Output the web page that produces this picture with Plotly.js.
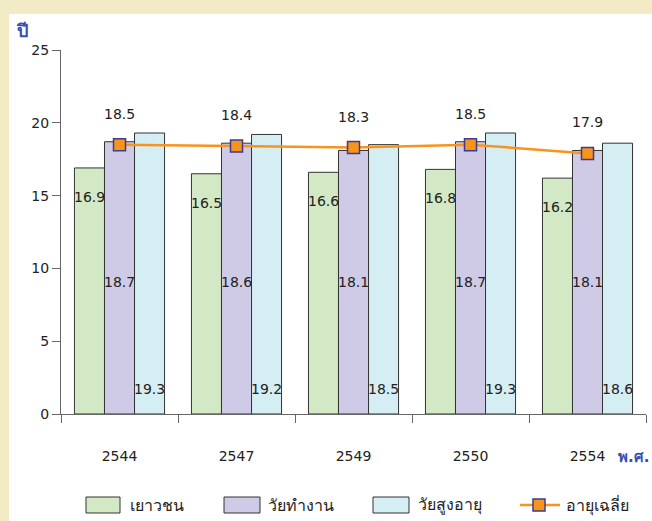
<!DOCTYPE html>
<html>
<head>
<meta charset="utf-8">
<script src="https://cdn.plot.ly/plotly-3.0.1.min.js"></script>
<style>
  html, body { margin: 0; padding: 0; background: #f3ebc6; width: 652px; height: 521px; overflow: hidden; }
  #chart { position: absolute; left: 9px; top: 14px; width: 643px; height: 507px; background: #ffffff; }
</style>
</head>
<body>
<div id="chart"></div>
<script>
// ---- data ----
const years = ["2544", "2547", "2549", "2550", "2554"];
const youth = [16.9, 16.5, 16.6, 16.8, 16.2];
const working = [18.7, 18.6, 18.1, 18.7, 18.1];
const elderly = [19.3, 19.2, 18.5, 19.3, 18.6];
const average = [18.5, 18.4, 18.3, 18.5, 17.9];
const seriesNames = ["เยาวชน", "วัยทำงาน", "วัยสูงอายุ", "อายุเฉลี่ย"];
const yTicks = [0, 5, 10, 15, 20, 25];
const yUnit = "ปี";
const xUnit = "พ.ศ.";

// ---- style ----
const colors = ["#d3e9c6", "#cfcae6", "#d5eef4"];
const lineColor = "#f7941d";
const markerEdge = "#3c3c8c";
const font = "DejaVu Sans, Tahoma, Verdana, sans-serif";
const txt = "#222222";

// page pixel -> paper coords (plot area: x 61..646, y 50..414 in page)
const PX0 = 61, PX1 = 646, PY0 = 50, PY1 = 414;
const px = x => (x - PX0) / (PX1 - PX0);
const py = y => (PY1 - y) / (PY1 - PY0);

const barLine = { color: "#333333", width: 1 };
const traces = [
  { type: "bar", x: years, y: youth, name: seriesNames[0], marker: { color: colors[0], line: barLine } },
  { type: "bar", x: years, y: working, name: seriesNames[1], marker: { color: colors[1], line: barLine } },
  { type: "bar", x: years, y: elderly, name: seriesNames[2], marker: { color: colors[2], line: barLine } },
  { type: "scatter", mode: "lines+markers", x: years, y: average, name: seriesNames[3],
    line: { color: lineColor, width: 2.5 },
    marker: { symbol: "square", size: 12, color: lineColor, line: { color: markerEdge, width: 1.5 } } }
];

const annotations = [];
const lblFont = { family: font, size: 14, color: txt };
years.forEach((yr, i) => {
  // category index i on the category axis
  annotations.push({ x: i, y: youth[i], xref: "x", yref: "y", text: youth[i].toFixed(1), showarrow: false, xshift: -30, yshift: -29, font: lblFont });
  annotations.push({ x: i, y: 9.1, xref: "x", yref: "y", text: working[i].toFixed(1), showarrow: false, xshift: 0, font: lblFont });
  annotations.push({ x: i, y: 1.72, xref: "x", yref: "y", text: elderly[i].toFixed(1), showarrow: false, xshift: 30, font: lblFont });
  annotations.push({ x: i, y: average[i], xref: "x", yref: "y", text: average[i].toFixed(1), showarrow: false, yshift: 31, font: lblFont });
});
// unit labels
annotations.push({ xref: "paper", yref: "paper", x: px(14), y: py(31), xanchor: "left", yanchor: "middle", text: "<b>" + yUnit + "</b>", showarrow: false, font: { family: font, size: 18, color: "#3a4fb0" } });
annotations.push({ xref: "paper", yref: "paper", x: px(651), y: py(457), xanchor: "right", yanchor: "middle", text: "<b>" + xUnit + "</b>", showarrow: false, font: { family: font, size: 15, color: "#3a4fb0" } });

// custom legend
const shapes = [];
const legY0 = 497, legY1 = 513, legYc = 505;
const swatchX = [[86, 120], [224, 260], [373, 409]];
const legTextX = [128, 266, 416, 564];
for (let k = 0; k < 3; k++) {
  shapes.push({ type: "rect", xref: "paper", yref: "paper", x0: px(swatchX[k][0]), x1: px(swatchX[k][1]), y0: py(legY1), y1: py(legY0), fillcolor: colors[k], line: { color: "#333333", width: 1 } });
}
shapes.push({ type: "line", xref: "paper", yref: "paper", x0: px(520), x1: px(560), y0: py(legYc), y1: py(legYc), line: { color: lineColor, width: 2.5 } });
shapes.push({ type: "rect", xref: "paper", yref: "paper", x0: px(533), x1: px(545), y0: py(legYc + 6), y1: py(legYc - 6), fillcolor: lineColor, line: { color: markerEdge, width: 1.5 } });
for (let k = 0; k < 4; k++) {
  annotations.push({ xref: "paper", yref: "paper", x: px(legTextX[k]), y: py(legYc), xanchor: "left", yanchor: "middle", text: seriesNames[k], showarrow: false, font: { family: font, size: 16, color: txt } });
}

const layout = {
  width: 643, height: 507,
  margin: { l: 52, r: 6, t: 36, b: 107 },
  paper_bgcolor: "#ffffff", plot_bgcolor: "#ffffff",
  barmode: "group", bargap: 0.23, bargroupgap: 0,
  showlegend: false, hovermode: false,
  font: { family: font, size: 14, color: txt },
  xaxis: {
    type: "category", range: [-0.5, 4.5], showgrid: false, zeroline: false,
    showline: true, linecolor: "#666666", linewidth: 1,
    ticks: "outside", tickson: "boundaries", ticklen: 8, tickcolor: "#666666",
    ticklabelstandoff: 29, tickangle: 0,
    tickfont: { family: font, size: 14, color: txt }
  },
  yaxis: {
    range: [0, 25], tickvals: yTicks, showgrid: false, zeroline: false,
    showline: true, linecolor: "#666666", linewidth: 1,
    ticks: "outside", ticklen: 8, tickcolor: "#666666",
    tickfont: { family: font, size: 14, color: txt }
  },
  annotations: annotations,
  shapes: shapes
};

Plotly.newPlot("chart", traces, layout, { displayModeBar: false, staticPlot: true });
</script>
</body>
</html>
